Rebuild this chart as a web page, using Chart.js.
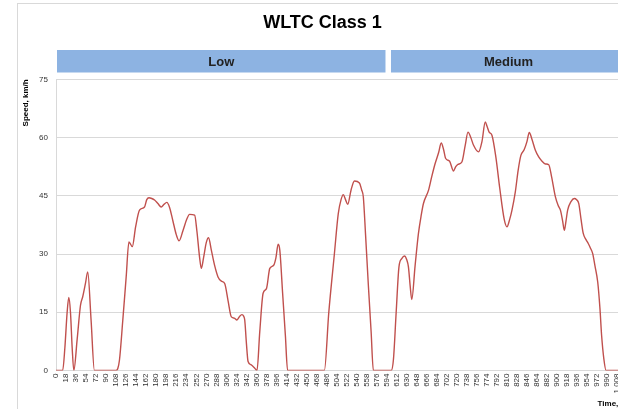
<!DOCTYPE html>
<html>
<head>
<meta charset="utf-8">
<script src="https://cdn.jsdelivr.net/npm/chart.js@4.4.1/dist/chart.umd.min.js"></script>
<style>
  html, body { margin: 0; padding: 0; background: #fff; overflow: hidden; }
  #frame { position: absolute; left: 17px; top: 3px; width: 1000px; height: 1000px;
           border-left: 1px solid #d9d9d9; border-top: 1px solid #d9d9d9; }
  #wrap { position: absolute; left: 0; top: 0; width: 650px; height: 409px; }
</style>
</head>
<body>
<div id="frame"></div>
<div id="wrap"><canvas id="chart"></canvas></div>
<script>
// key points (time in s, speed in km/h)
var times = [0, 12, 16, 20, 23, 26, 29, 32, 38, 44, 48, 53, 57, 63, 69,
  108, 111, 114, 120, 126, 131, 137, 143, 150, 159, 163, 167, 172, 177, 183, 189, 194, 199, 204, 210, 216, 221, 228, 235, 240, 249,
  253, 258, 261, 265, 270, 274, 279, 285, 291, 297, 303, 309, 315, 320, 325, 330, 334, 337, 339, 342, 345, 350, 357, 361,
  366, 372, 378, 384, 391, 395, 399, 402, 407, 412, 416,
  482, 490, 500, 507, 512, 516, 520, 524, 530, 536, 545, 549, 552, 556, 561, 566, 570,
  602, 606, 611, 616, 621, 626, 630, 633, 636, 639, 645, 651, 656, 660, 669, 675, 681, 687, 692, 696, 700, 707, 714, 718, 722, 729,
  735, 740, 745, 750, 759, 765, 771, 774, 778, 783, 790, 797, 805, 810, 815, 819, 825, 830, 835, 841, 846, 850, 855, 861, 867,
  873, 879, 885, 890, 897, 902, 906, 910, 913, 916, 919, 925, 931, 935, 939, 943, 947, 952, 956, 960, 964, 968, 973, 977, 980,
  984, 988, 1022];
var speeds = [0, 0, 6, 15, 18.8, 15, 6, 0, 8, 16.8, 19, 22.5, 25.4, 13, 0,
  0, 0.5, 2.7, 13, 24, 33.1, 31.9, 37, 41.3, 42.1, 44, 44.5, 44.3, 43.9, 43, 42.1, 42.8, 43.3, 42, 38.5, 35, 33.4, 36, 39, 40.2, 40,
  36, 29, 26.3, 29, 33, 34.2, 31, 27, 24.1, 23, 22.4, 18, 13.8, 13.5, 13, 14, 14.4, 14, 13, 7, 2.3, 1.5, 0.6, 0,
  10, 19.9, 21.1, 26.3, 27.1, 29, 32.5, 31, 20, 9, 0,
  0, 15, 30, 40.4, 44, 45.3, 44, 42.8, 46.5, 48.8, 48.3, 46.5, 44.7, 35, 22, 10, 0,
  0, 2.7, 15, 26.7, 28.8, 29.5, 28.5, 26.7, 22, 18.3, 27, 35.3, 40, 43, 46.4, 50, 53.3, 56, 58.6, 57, 54.6, 53.9, 51.4, 52.5, 53.1, 53.7,
  58, 61.4, 60, 58, 56.3, 58.9, 64, 63, 61.4, 60.6, 55, 47, 39, 37, 39, 41.3, 46, 51.5, 55.4, 56.9, 59, 61.3, 59.5, 56.7, 55,
  53.9, 53.2, 53, 50, 44.7, 42.5, 41.3, 38.5, 36.1, 38.5, 41.3, 43.5, 44.3, 44, 43, 39, 35.3, 33.7, 32.7, 31.5, 30.1, 27, 22.8, 16, 9,
  3, 0, 0];

var xTicks = [0, 18, 36, 54, 72, 90, 108, 126, 144, 162, 180, 198, 216, 234, 252, 270, 288, 306, 324, 342, 360, 378, 396,
  414, 432, 450, 468, 486, 504, 522, 540, 558, 576, 594, 612, 630, 648, 666, 684, 702, 720, 738, 756, 774, 792, 810, 828,
  846, 864, 882, 900, 918, 936, 954, 972, 990, 1008];

var phaseNames = ['Low', 'Medium'];
var phaseStart = [0, 590];
var phaseEnd = [590, 1022];

var points = times.map(function (t, i) { return { x: t, y: speeds[i] }; });

var phaseBands = {
  id: 'phaseBands',
  afterDraw: function (chart) {
    var c = chart.ctx;
    var xs = chart.scales.x;
    c.save();
    for (var i = 0; i < phaseNames.length; i++) {
      var x0 = xs.getPixelForValue(phaseStart[i]) + (i == 0 ? 1 : 6.5);
      var x1 = xs.getPixelForValue(phaseEnd[i]) + 1;
      c.fillStyle = '#8db3e2';
      c.fillRect(x0, 50, x1 - x0, 22.5);
      c.fillStyle = '#222';
      c.font = 'bold 13px "Liberation Sans", Arial, sans-serif';
      c.textAlign = 'center';
      c.textBaseline = 'middle';
      c.fillText(phaseNames[i], (x0 + x1) / 2, 62);
    }
    c.restore();
  }
};

var ctx = document.getElementById('chart').getContext('2d');
new Chart(ctx, {
  type: 'line',
  data: {
    datasets: [{
      data: points,
      borderColor: '#c0504d',
      borderWidth: 1.4,
      pointRadius: 0,
      cubicInterpolationMode: 'monotone',
      fill: false
    }]
  },
  options: {
    responsive: true,
    maintainAspectRatio: false,
    animation: false,
    layout: { padding: { left: 20, right: 25, top: 0, bottom: 0 } },
    plugins: {
      legend: { display: false },
      tooltip: { enabled: false },
      title: {
        display: true,
        text: 'WLTC Class 1',
        color: '#000',
        font: { family: '"Liberation Sans", Arial, sans-serif', size: 18, weight: 'bold' },
        padding: { top: 12, bottom: 45.7 }
      }
    },
    scales: {
      x: {
        type: 'linear',
        min: 0,
        max: 1022,
        afterBuildTicks: function (scale) {
          scale.ticks = xTicks.map(function (v) { return { value: v }; });
        },
        afterFit: function (scale) { scale.height = 38.5; },
        grid: { display: false, drawTicks: false },
        border: { color: '#d9d9d9' },
        ticks: {
          autoSkip: false,
          minRotation: 90,
          maxRotation: 90,
          padding: 3,
          color: '#333',
          font: { family: '"Liberation Sans", Arial, sans-serif', size: 8 }
        },
        title: {
          display: true,
          text: 'Time, s',
          align: 'end',
          color: '#000',
          padding: 0,
          font: { family: '"Liberation Sans", Arial, sans-serif', size: 8, weight: 'bold' }
        }
      },
      y: {
        min: 0,
        max: 75,
        afterFit: function (scale) { scale.width = 36; },
        grid: { color: '#d9d9d9', drawTicks: false },
        border: { color: '#d9d9d9' },
        ticks: {
          stepSize: 15,
          padding: 8,
          color: '#333',
          font: { family: '"Liberation Sans", Arial, sans-serif', size: 8 }
        },
        title: {
          display: true,
          text: 'Speed, km/h',
          align: 'end',
          color: '#000',
          padding: { top: 1, bottom: 0 },
          font: { family: '"Liberation Sans", Arial, sans-serif', size: 8, weight: 'bold' }
        }
      }
    }
  },
  plugins: [phaseBands]
});
</script>
</body>
</html>
